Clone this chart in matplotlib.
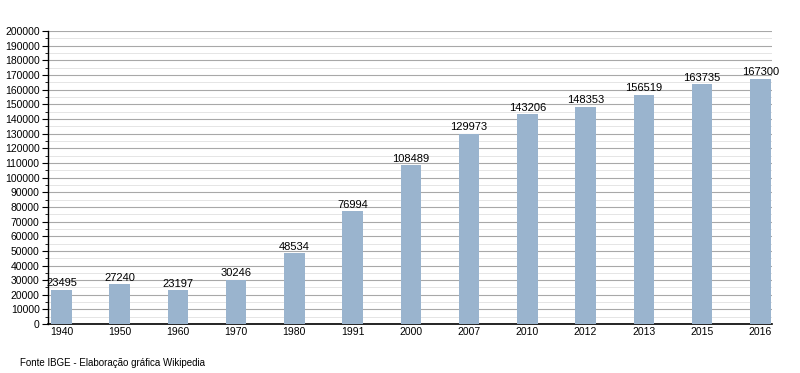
import matplotlib.pyplot as plt
from matplotlib.ticker import MultipleLocator

years = ['1940', '1950', '1960', '1970', '1980', '1991', '2000',
         '2007', '2010', '2012', '2013', '2015', '2016']
population = [23495, 27240, 23197, 30246, 48534, 76994, 108489,
              129973, 143206, 148353, 156519, 163735, 167300]

plt.rcParams['font.family'] = ['Liberation Sans', 'DejaVu Sans']

fig = plt.figure(figsize=(8, 3.73), dpi=100)
ax = fig.add_axes([0.06, 0.131, 0.905, 0.786])

x = range(len(years))
ax.bar(x, population, width=0.35, color='#9ab4ce', zorder=3)

for i, v in enumerate(population):
    ax.text(i, v + 1000, str(v), ha='center', va='bottom', fontsize=8, zorder=4)

ax.set_ylim(0, 200000)
ax.set_xlim(-0.23, 12.2)
ax.yaxis.set_major_locator(MultipleLocator(10000))
ax.yaxis.set_minor_locator(MultipleLocator(5000))
ax.grid(axis='y', which='major', color='#a8a8a8', linewidth=0.8, zorder=0)
ax.grid(axis='y', which='minor', color='#e0e0e0', linewidth=0.6, zorder=0)

ax.set_xticks(list(x))
ax.set_xticklabels(years)
ax.tick_params(axis='x', length=0, labelsize=7.5, pad=2)
ax.tick_params(axis='y', which='major', length=4, labelsize=7.5, pad=2)
ax.tick_params(axis='y', which='minor', length=2)

for s in ['top', 'right']:
    ax.spines[s].set_visible(False)
ax.spines['left'].set_linewidth(1)
ax.spines['bottom'].set_linewidth(1.2)

fig.text(0.025, 0.02, 'Fonte IBGE - Elaboração gráfica Wikipedia', fontsize=7)

fig.savefig('out.png', dpi=100)
